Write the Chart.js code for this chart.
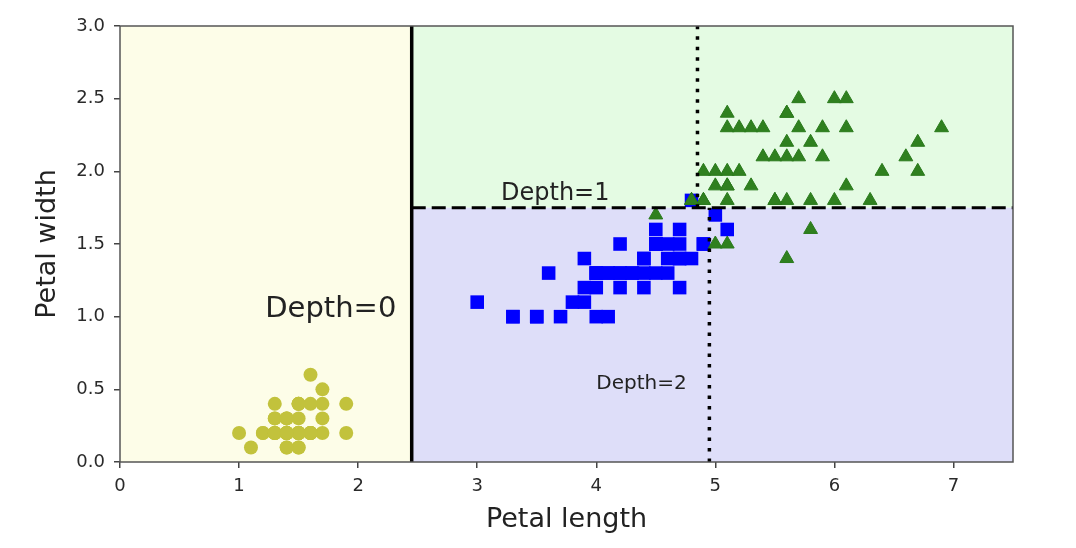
<!DOCTYPE html>
<html>
<head>
<meta charset="utf-8">
<script src="https://cdn.jsdelivr.net/npm/chart.js@4.4.1/dist/chart.umd.min.js"></script>
<style>
  body { margin: 0; background: #fff; }
</style>
</head>
<body>
<canvas id="irisChart" width="1076" height="548"></canvas>
<script>
// iris petal measurements
var setosaLength = [1.4, 1.4, 1.3, 1.5, 1.4, 1.7, 1.4, 1.5, 1.4, 1.5, 1.5, 1.6, 1.4, 1.1, 1.2, 1.5, 1.3, 1.4, 1.7, 1.5,
  1.7, 1.5, 1.0, 1.7, 1.9, 1.6, 1.6, 1.5, 1.4, 1.6, 1.6, 1.5, 1.5, 1.4, 1.5, 1.2, 1.3, 1.4, 1.3, 1.5,
  1.3, 1.3, 1.3, 1.6, 1.9, 1.4, 1.6, 1.4, 1.5, 1.4];
var setosaWidth = [0.2, 0.2, 0.2, 0.2, 0.2, 0.4, 0.3, 0.2, 0.2, 0.1, 0.2, 0.2, 0.1, 0.1, 0.2, 0.4, 0.4, 0.3, 0.3, 0.3,
  0.2, 0.4, 0.2, 0.5, 0.2, 0.2, 0.4, 0.2, 0.2, 0.2, 0.2, 0.4, 0.1, 0.2, 0.2, 0.2, 0.2, 0.1, 0.2, 0.2,
  0.3, 0.3, 0.2, 0.6, 0.4, 0.3, 0.2, 0.2, 0.2, 0.2];
var versicolorLength = [4.7, 4.5, 4.9, 4.0, 4.6, 4.5, 4.7, 3.3, 4.6, 3.9, 3.5, 4.2, 4.0, 4.7, 3.6, 4.4, 4.5, 4.1, 4.5, 3.9,
  4.8, 4.0, 4.9, 4.7, 4.3, 4.4, 4.8, 5.0, 4.5, 3.5, 3.8, 3.7, 3.9, 5.1, 4.5, 4.5, 4.7, 4.4, 4.1, 4.0,
  4.4, 4.6, 4.0, 3.3, 4.2, 4.2, 4.2, 4.3, 3.0, 4.1];
var versicolorWidth = [1.4, 1.5, 1.5, 1.3, 1.5, 1.3, 1.6, 1.0, 1.3, 1.4, 1.0, 1.5, 1.0, 1.4, 1.3, 1.4, 1.5, 1.0, 1.5, 1.1,
  1.8, 1.3, 1.5, 1.2, 1.3, 1.4, 1.4, 1.7, 1.5, 1.0, 1.1, 1.0, 1.2, 1.6, 1.5, 1.6, 1.5, 1.3, 1.3, 1.3,
  1.2, 1.4, 1.2, 1.0, 1.3, 1.2, 1.3, 1.3, 1.1, 1.3];
var virginicaLength = [6.0, 5.1, 5.9, 5.6, 5.8, 6.6, 4.5, 6.3, 5.8, 6.1, 5.1, 5.3, 5.5, 5.0, 5.1, 5.3, 5.5, 6.7, 6.9, 5.0,
  5.7, 4.9, 6.7, 4.9, 5.7, 6.0, 4.8, 4.9, 5.6, 5.8, 6.1, 6.4, 5.6, 5.1, 5.6, 6.1, 5.6, 5.5, 4.8, 5.4,
  5.6, 5.1, 5.1, 5.9, 5.7, 5.2, 5.0, 5.2, 5.4, 5.1];
var virginicaWidth = [2.5, 1.9, 2.1, 1.8, 2.2, 2.1, 1.7, 1.8, 1.8, 2.5, 2.0, 1.9, 2.1, 2.0, 2.4, 2.3, 1.8, 2.2, 2.3, 1.5,
  2.3, 2.0, 2.0, 1.8, 2.1, 1.8, 1.8, 1.8, 2.1, 1.6, 1.9, 2.0, 2.2, 1.5, 1.4, 2.3, 2.4, 1.8, 1.8, 2.1,
  2.4, 2.3, 1.9, 2.3, 2.5, 2.3, 1.9, 2.0, 2.3, 1.8];

// decision tree splits
var split0 = 2.45;   // petal length, depth 0
var split1 = 1.75;   // petal width, depth 1
var split2a = 4.95;  // petal length, depth 2 (lower)
var split2b = 4.85;  // petal length, depth 2 (upper)

var depthLabels = ["Depth=0", "Depth=1", "Depth=2"];
var depthX = [1.22, 3.2, 4.0];
var depthY = [1.0, 1.8, 0.5];
var depthFont = [29, 24, 20];

function toPoints(xs, ys) {
  return xs.map(function(v, i) { return { x: v, y: ys[i] }; });
}

var regions = {
  id: 'regions',
  beforeDatasetsDraw: function(chart) {
    var ctx = chart.ctx, xs = chart.scales.x, ys = chart.scales.y;
    var x0 = xs.getPixelForValue(0), x1 = xs.getPixelForValue(split0), x2 = xs.getPixelForValue(7.5);
    var yb = ys.getPixelForValue(0), ym = ys.getPixelForValue(split1), yt = ys.getPixelForValue(3);
    ctx.save();
    ctx.fillStyle = '#fdfde8';
    ctx.fillRect(x0, yt, x1 - x0, yb - yt);
    ctx.fillStyle = '#e4fbe3';
    ctx.fillRect(x1, yt, x2 - x1, ym - yt);
    ctx.fillStyle = '#dedef9';
    ctx.fillRect(x1, ym, x2 - x1, yb - ym);
    ctx.restore();
  },
  afterDatasetsDraw: function(chart) {
    var ctx = chart.ctx, xs = chart.scales.x, ys = chart.scales.y, a = chart.chartArea;
    ctx.save();
    ctx.fillStyle = '#222';
    ctx.textAlign = 'left';
    ctx.textBaseline = 'alphabetic';
    depthLabels.forEach(function(t, i) {
      ctx.font = depthFont[i] + 'px "DejaVu Sans"';
      ctx.fillText(t, xs.getPixelForValue(depthX[i]), ys.getPixelForValue(depthY[i]));
    });
    ctx.strokeStyle = '#555';
    ctx.lineWidth = 1.5;
    ctx.strokeRect(a.left, a.top, a.right - a.left, a.bottom - a.top);
    ctx.restore();
  }
};

var lineStyle = { showLine: true, pointRadius: 0, borderColor: '#000', fill: false, order: 0 };

var ctx = document.getElementById("irisChart").getContext('2d');
var irisChart = new Chart(ctx, {
  type: 'scatter',
  data: {
    datasets: [
      Object.assign({ data: [{ x: split0, y: 0 }, { x: split0, y: 3 }], borderWidth: 3.5 }, lineStyle),
      Object.assign({ data: [{ x: split0, y: split1 }, { x: 7.5, y: split1 }], borderWidth: 3, borderDash: [14, 6] }, lineStyle),
      Object.assign({ data: [{ x: split2a, y: 0 }, { x: split2a, y: split1 }], borderWidth: 3.5, borderDash: [3.5, 7] }, lineStyle),
      Object.assign({ data: [{ x: split2b, y: split1 }, { x: split2b, y: 3 }], borderWidth: 3.5, borderDash: [3.5, 7] }, lineStyle),
      {
        data: toPoints(virginicaLength, virginicaWidth),
        pointStyle: 'triangle', pointRadius: 8,
        backgroundColor: '#2f801f', borderColor: '#2a7a1c', borderWidth: 1, order: 1
      },
      {
        data: toPoints(versicolorLength, versicolorWidth),
        pointStyle: 'rect', pointRadius: 9.6,
        backgroundColor: '#0000ff', borderColor: '#0000ff', borderWidth: 0, order: 2
      },
      {
        data: toPoints(setosaLength, setosaWidth),
        pointStyle: 'circle', pointRadius: 7,
        backgroundColor: '#c2c23c', borderColor: '#c2c23c', borderWidth: 0, order: 3
      }
    ]
  },
  plugins: [regions],
  options: {
    responsive: false,
    animation: false,
    events: [],
    layout: { padding: { top: 26, right: 63, left: 0, bottom: 0 } },
    plugins: { legend: { display: false }, tooltip: { enabled: false } },
    scales: {
      x: {
        type: 'linear', min: 0, max: 7.5,
        afterFit: function(s) { s.height = 86; },
        border: { display: false },
        grid: { drawOnChartArea: false, tickLength: 6, color: '#444', lineWidth: 1.5 },
        ticks: { stepSize: 1, includeBounds: false, padding: 8, color: '#2a2a2a', font: { family: 'DejaVu Sans', size: 18 } },
        title: { display: true, text: 'Petal length', color: '#222', font: { family: 'DejaVu Sans', size: 27 }, padding: { top: 0, bottom: 12 } }
      },
      y: {
        type: 'linear', min: 0, max: 3,
        afterFit: function(s) { s.width = 120; },
        border: { display: false },
        grid: { drawOnChartArea: false, tickLength: 6, color: '#444', lineWidth: 1.5 },
        ticks: { stepSize: 0.5, padding: 9, color: '#2a2a2a', font: { family: 'DejaVu Sans', size: 18 },
          callback: function(v) { return v.toFixed(1); } },
        title: { display: true, text: 'Petal width', color: '#222', font: { family: 'DejaVu Sans', size: 27 }, padding: { top: 32, bottom: 0 } }
      }
    }
  }
});
</script>
</body>
</html>
